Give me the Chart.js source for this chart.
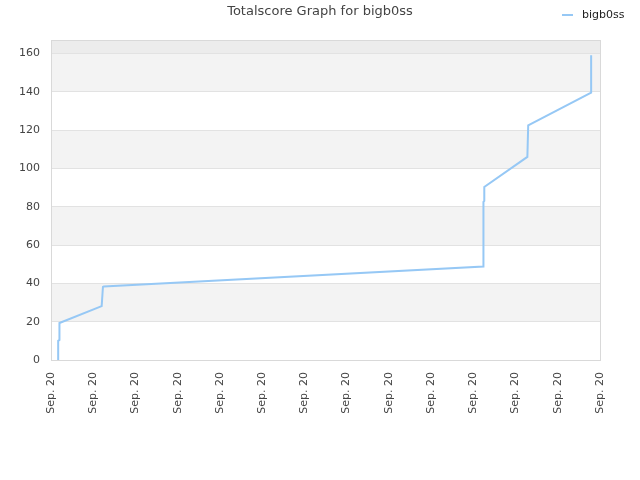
<!DOCTYPE html>
<html>
<head>
<meta charset="utf-8">
<script src="https://cdn.jsdelivr.net/npm/chart.js@4/dist/chart.umd.min.js"></script>
<style>
  body { margin: 0; background: #fff; }
</style>
</head>
<body>
<canvas id="chart" width="640" height="480"></canvas>
<script>
// Datos del grafico
const titleText = 'Totalscore Graph for bigb0ss';
const seriesName = 'bigb0ss';
const tickLabels = ['Sep. 20', 'Sep. 20', 'Sep. 20', 'Sep. 20', 'Sep. 20', 'Sep. 20', 'Sep. 20',
                    'Sep. 20', 'Sep. 20', 'Sep. 20', 'Sep. 20', 'Sep. 20', 'Sep. 20', 'Sep. 20'];
const xPos = [0.17, 0.17, 0.2, 0.2, 1.2, 1.23, 1.25, 10.24, 10.24, 10.26, 10.26, 11.28, 11.3, 12.79, 12.79];
const scores = [0, 10, 10.5, 19.3, 28.1, 38.2, 38.4, 48.8, 82.5, 83, 90.3, 106, 122.5, 139.5, 159];
const yTicks = [0, 20, 40, 60, 80, 100, 120, 140, 160];

const points = xPos.map((x, i) => ({ x: x, y: scores[i] }));

// Bandas alternas de fondo, marco, titulo y leyenda
const bandsPlugin = {
  id: 'bands',
  beforeDraw(chart) {
    const ctx = chart.ctx;
    const area = chart.chartArea;
    const y = chart.scales.y;
    ctx.save();
    for (let i = 1; i < yTicks.length - 1; i += 2) {
      const top = y.getPixelForValue(yTicks[i + 1]);
      const bottom = y.getPixelForValue(yTicks[i]);
      ctx.fillStyle = '#f3f3f3';
      ctx.fillRect(area.left, top, area.right - area.left, bottom - top);
    }
    const lastTop = y.getPixelForValue(yTicks[yTicks.length - 1]);
    ctx.fillStyle = '#ececec';
    ctx.fillRect(area.left, area.top, area.right - area.left, lastTop - area.top);
    ctx.restore();
  },
  afterDraw(chart) {
    const ctx = chart.ctx;
    const area = chart.chartArea;
    ctx.save();
    ctx.strokeStyle = '#d9d9d9';
    ctx.lineWidth = 1;
    ctx.strokeRect(area.left + 0.5, area.top + 0.5, area.right - area.left, area.bottom - area.top);

    // Titulo
    ctx.fillStyle = '#444';
    ctx.font = '13px "DejaVu Sans"';
    ctx.textAlign = 'center';
    ctx.textBaseline = 'middle';
    ctx.fillText(titleText, 320, 12);

    // Leyenda
    ctx.strokeStyle = '#96c8f5';
    ctx.lineWidth = 2;
    ctx.beginPath();
    ctx.moveTo(562, 15);
    ctx.lineTo(573, 15);
    ctx.stroke();
    ctx.fillStyle = '#222';
    ctx.font = '11px "DejaVu Sans"';
    ctx.textAlign = 'left';
    ctx.fillText(seriesName, 582, 15);
    ctx.restore();
  }
};

const ctx = document.getElementById('chart').getContext('2d');
new Chart(ctx, {
  type: 'line',
  data: {
    datasets: [{
      label: seriesName,
      data: points,
      borderColor: '#96c8f5',
      borderWidth: 2,
      pointRadius: 0,
      tension: 0,
      fill: false
    }]
  },
  options: {
    responsive: false,
    animation: false,
    layout: { padding: { top: 40, right: 40, left: 0, bottom: 0 } },
    plugins: {
      legend: { display: false },
      title: { display: false },
      tooltip: { enabled: false }
    },
    scales: {
      x: {
        type: 'linear',
        min: 0,
        max: tickLabels.length - 1,
        afterFit: s => { s.height = 120; },
        grid: { display: false },
        border: { color: '#d9d9d9' },
        ticks: {
          stepSize: 1,
          maxRotation: 90,
          minRotation: 90,
          padding: 4,
          color: '#444',
          font: { family: 'DejaVu Sans', size: 11 },
          callback: v => tickLabels[v]
        }
      },
      y: {
        min: 0,
        max: 167,
        afterFit: s => { s.width = 51; },
        afterBuildTicks: s => { s.ticks = yTicks.map(v => ({ value: v })); },
        grid: { color: '#e2e2e2', drawTicks: false },
        border: { color: '#d9d9d9' },
        ticks: {
          padding: 11,
          color: '#444',
          font: { family: 'DejaVu Sans', size: 11 }
        }
      }
    }
  },
  plugins: [bandsPlugin]
});
</script>
</body>
</html>
